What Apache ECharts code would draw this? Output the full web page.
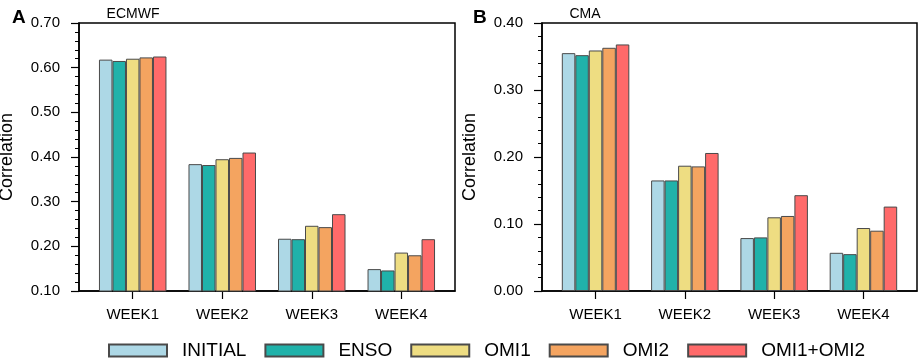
<!DOCTYPE html>
<html>
<head>
<meta charset="utf-8">
<script src="https://cdn.jsdelivr.net/npm/echarts@6/dist/echarts.min.js"></script>
<style>
  html, body { margin: 0; padding: 0; background: #fff; }
  #chart { width: 920px; height: 359px; }
</style>
</head>
<body>
<div id="chart"></div>
<script>
// categories and positions on the x axis
const weeks = ['WEEK1', 'WEEK2', 'WEEK3', 'WEEK4'];
const weekPos = [1, 2, 3, 4];
const seriesNames = ['INITIAL', 'ENSO', 'OMI1', 'OMI2', 'OMI1+OMI2'];

// panel A: ECMWF
const ecmwfInitial = [0.618, 0.384, 0.217, 0.149];
const ecmwfEnso    = [0.615, 0.382, 0.216, 0.146];
const ecmwfOmi1    = [0.620, 0.395, 0.246, 0.186];
const ecmwfOmi2    = [0.623, 0.398, 0.243, 0.180];
const ecmwfBoth    = [0.625, 0.410, 0.272, 0.216];

// panel B: CMA
const cmaInitial = [0.355, 0.165, 0.079, 0.057];
const cmaEnso    = [0.352, 0.165, 0.080, 0.055];
const cmaOmi1    = [0.359, 0.187, 0.110, 0.094];
const cmaOmi2    = [0.363, 0.186, 0.112, 0.090];
const cmaBoth    = [0.368, 0.206, 0.143, 0.126];

const COLORS = ['#add8e6', '#20b2aa', '#eedd82', '#f4a460', '#ff6a6a'];
const FONT = 'Liberation Sans, Arial, sans-serif';

const chart = echarts.init(document.getElementById('chart'));

const grids = [
  { left: 79, top: 23, width: 376, height: 268 },
  { left: 542, top: 23, width: 375, height: 268 },
];

const xAxis = grids.map((g, i) => ({
  type: 'value',
  gridIndex: i,
  min: 0.4,
  max: 4.6,
  splitLine: { show: false },
  axisLine: { show: true, lineStyle: { color: '#000', width: 1.5 } },
  axisTick: { show: true, customValues: weekPos, length: 8, lineStyle: { color: '#000', width: 1.2 } },
  axisLabel: {
    customValues: weekPos,
    margin: 16,
    color: '#000',
    fontSize: 15,
    fontFamily: FONT,
    formatter: v => weeks[weekPos.indexOf(v)] || '',
  },
}));

const yRanges = [
  { min: 0.1, max: 0.7 },
  { min: 0, max: 0.4 },
];

const yAxis = yRanges.map((r, i) => ({
  type: 'value',
  gridIndex: i,
  min: r.min,
  max: r.max,
  interval: 0.1,
  name: 'Correlation',
  nameLocation: 'middle',
  nameGap: 63,
  nameRotate: 90,
  nameTextStyle: { color: '#000', fontSize: 18, fontFamily: FONT },
  splitLine: { show: false },
  axisLine: { show: true, lineStyle: { color: '#000', width: 1.5 } },
  axisTick: { show: true, length: 8, lineStyle: { color: '#000', width: 1.2 } },
  minorTick: { show: true, splitNumber: 5, length: 4, lineStyle: { color: '#000', width: 1 } },
  axisLabel: {
    margin: 19,
    color: '#000',
    fontSize: 15,
    fontFamily: FONT,
    formatter: v => v.toFixed(2),
  },
}));

function barSeries(name, values, idx, axisIdx) {
  return {
    name: name,
    type: 'bar',
    xAxisIndex: axisIdx,
    yAxisIndex: axisIdx,
    barWidth: 13.5,
    barGap: '0%',
    data: values.map((v, k) => [weekPos[k], v]),
    itemStyle: { color: COLORS[idx], borderColor: '#4a4a4a', borderWidth: 1 },
  };
}

const ecmwfSets = [ecmwfInitial, ecmwfEnso, ecmwfOmi1, ecmwfOmi2, ecmwfBoth];
const cmaSets = [cmaInitial, cmaEnso, cmaOmi1, cmaOmi2, cmaBoth];

const series = [
  ...ecmwfSets.map((d, i) => barSeries(seriesNames[i], d, i, 0)),
  ...cmaSets.map((d, i) => barSeries(seriesNames[i], d, i, 1)),
];

chart.setOption({
  animation: false,
  textStyle: { fontFamily: FONT },
  grid: grids.map(g => ({
    ...g,
    show: true,
    borderColor: '#000',
    borderWidth: 1.5,
    backgroundColor: 'transparent',
    containLabel: false,
    outerBoundsMode: 'none',
  })),
  title: [
    { text: 'A', left: 7, top: 3, textStyle: { fontSize: 19, fontWeight: 'bold', color: '#000', fontFamily: FONT } },
    { text: 'ECMWF', left: 128, top: 2, textAlign: 'center', textStyle: { fontSize: 14, fontWeight: 'normal', color: '#000', fontFamily: FONT } },
    { text: 'B', left: 468, top: 3, textStyle: { fontSize: 19, fontWeight: 'bold', color: '#000', fontFamily: FONT } },
    { text: 'CMA', left: 580, top: 2, textAlign: 'center', textStyle: { fontSize: 14, fontWeight: 'normal', color: '#000', fontFamily: FONT } },
  ],
  legend: {
    data: seriesNames,
    left: 108,
    top: 341,
    padding: 0,
    itemWidth: 58,
    itemHeight: 12,
    itemGap: 18,
    icon: 'rect',
    textStyle: { color: '#000', fontSize: 19, fontFamily: FONT, padding: [0, 0, 0, 10] },
  },
  xAxis: xAxis,
  yAxis: yAxis,
  series: series,
});
</script>
</body>
</html>
